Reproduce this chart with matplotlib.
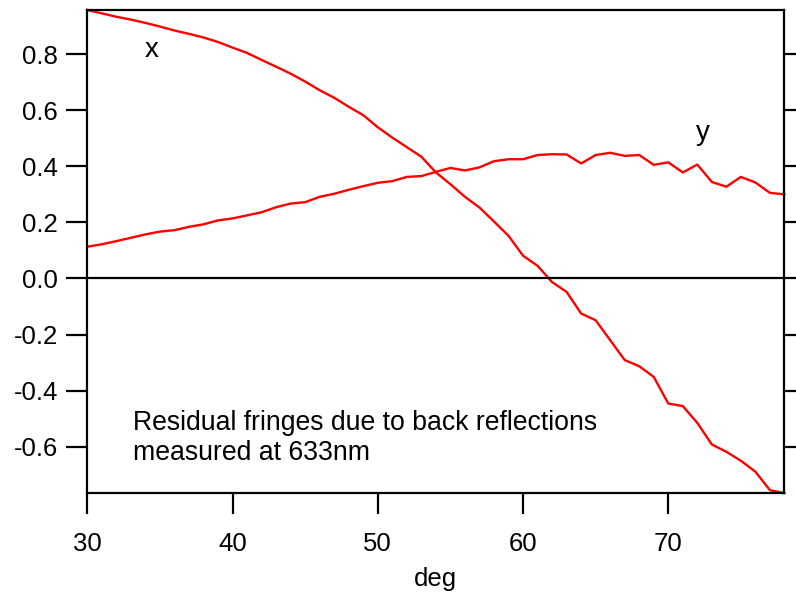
import matplotlib
matplotlib.use("Agg")
import matplotlib.pyplot as plt
import numpy as np

plt.rcParams['font.family'] = ['Liberation Sans', 'DejaVu Sans']

# angle in degrees, one sample per degree
deg = np.arange(30, 79)

# x and y fringe residuals
x_vals = [0.957, 0.945, 0.933, 0.923, 0.911, 0.898, 0.884, 0.872, 0.859, 0.843,
          0.823, 0.804, 0.779, 0.755, 0.730, 0.702, 0.671, 0.644, 0.612, 0.582,
          0.539, 0.502, 0.468, 0.434, 0.378, 0.336, 0.291, 0.253, 0.203, 0.152,
          0.081, 0.045, -0.013, -0.048, -0.125, -0.149, -0.220, -0.291, -0.313, -0.351,
          -0.446, -0.455, -0.515, -0.592, -0.618, -0.650, -0.689, -0.755, -0.765]
y_vals = [0.113, 0.122, 0.133, 0.145, 0.157, 0.167, 0.172, 0.184, 0.193, 0.207,
          0.214, 0.225, 0.236, 0.254, 0.267, 0.272, 0.291, 0.302, 0.316, 0.329,
          0.341, 0.347, 0.362, 0.365, 0.380, 0.394, 0.385, 0.396, 0.418, 0.425,
          0.425, 0.440, 0.443, 0.442, 0.410, 0.440, 0.448, 0.437, 0.440, 0.405,
          0.414, 0.378, 0.406, 0.344, 0.327, 0.362, 0.342, 0.305, 0.300]

xticks = [30, 40, 50, 60, 70]
yticks = [-0.6, -0.4, -0.2, 0.0, 0.2, 0.4, 0.6, 0.8]

fig = plt.figure(figsize=(7.96, 5.93), dpi=100)
ax = fig.add_axes([0.1097, 0.1686, 0.8758, 0.8145])

ax.plot(deg, x_vals, color='#ff0000', lw=1.7, clip_on=False)
ax.plot(deg, y_vals, color='#ff0000', lw=1.7, clip_on=False)
ax.axhline(0, color='black', lw=1.6)

ax.set_xlim(30, 78)
ax.set_ylim(min(x_vals), max(x_vals))
ax.set_xticks(xticks)
ax.set_yticks(yticks)
ax.set_yticklabels([f"{v:.1f}" for v in yticks])

for s in ax.spines.values():
    s.set_linewidth(1.6)

ax.tick_params(axis='both', direction='out', length=15, width=1.6, labelsize=18.5)
ax.tick_params(axis='y', right=True, pad=6)
ax.tick_params(axis='x', pad=13)

ax.set_xlabel("deg", fontsize=18.5, labelpad=8)

ax.text(34.45, 0.814, "x", fontsize=20, ha='center', va='center')
ax.text(72.37, 0.518, "y", fontsize=20, ha='center', va='center')
ax.text(33.15, -0.569, "Residual fringes due to back reflections\nmeasured at 633nm",
        fontsize=19.2, ha='left', va='center', linespacing=1.22)

fig.savefig("out.png", dpi=100)
